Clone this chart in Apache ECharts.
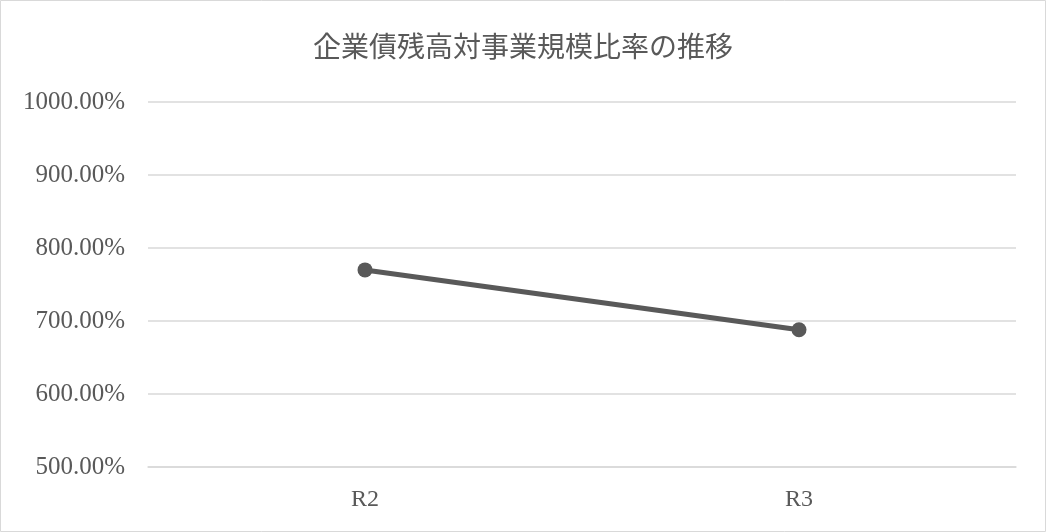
<!DOCTYPE html>
<html>
<head>
<meta charset="utf-8">
<script src="https://cdn.jsdelivr.net/npm/echarts@6/dist/echarts.min.js"></script>
<style>
  html, body { margin: 0; padding: 0; background: #fff; }
  #main { width: 1046px; height: 532px; }
</style>
</head>
<body>
<div id="main"></div>
<script>
// データ
const categories = ['R2', 'R3']
const ratioValues = [770, 688]
const yMin = 500
const yMax = 1000
const yStep = 100

const serif = '"Liberation Serif", "DejaVu Serif", "Noto Sans CJK JP", serif'

const chart = echarts.init(document.getElementById('main'))
chart.setOption({
  backgroundColor: '#fff',
  animation: false,
  // 外枠
  graphic: [{
    type: 'rect',
    shape: { x: 0.5, y: 0.5, width: 1045, height: 531 },
    style: { fill: 'none', stroke: '#d9d9d9', lineWidth: 1 },
    silent: true
  }],
  title: {
    text: '企業債残高対事業規模比率の推移',
    left: 'center',
    top: 27,
    textStyle: {
      color: '#595959',
      fontSize: 28,
      fontWeight: 'normal',
      fontFamily: '"Noto Sans CJK JP", serif'
    }
  },
  grid: {
    left: 148,
    right: 30,
    top: 102,
    bottom: 65
  },
  xAxis: {
    type: 'category',
    data: categories,
    boundaryGap: true,
    axisLine: { show: true, lineStyle: { color: '#d9d9d9', width: 1.5 } },
    axisTick: { show: false },
    axisLabel: {
      color: '#595959',
      fontSize: 24,
      fontFamily: serif,
      margin: 21
    }
  },
  yAxis: {
    type: 'value',
    min: yMin,
    max: yMax,
    interval: yStep,
    axisLine: { show: false },
    axisTick: { show: false },
    splitLine: { lineStyle: { color: '#d9d9d9', width: 1.5 } },
    axisLabel: {
      color: '#595959',
      fontSize: 25,
      fontFamily: serif,
      margin: 23,
      formatter: v => v.toFixed(2) + '%'
    }
  },
  series: [{
    name: '企業債残高対事業規模比率',
    type: 'line',
    data: ratioValues,
    symbol: 'circle',
    symbolSize: 15,
    lineStyle: { color: '#595959', width: 5 },
    itemStyle: { color: '#595959' }
  }]
})
</script>
</body>
</html>
